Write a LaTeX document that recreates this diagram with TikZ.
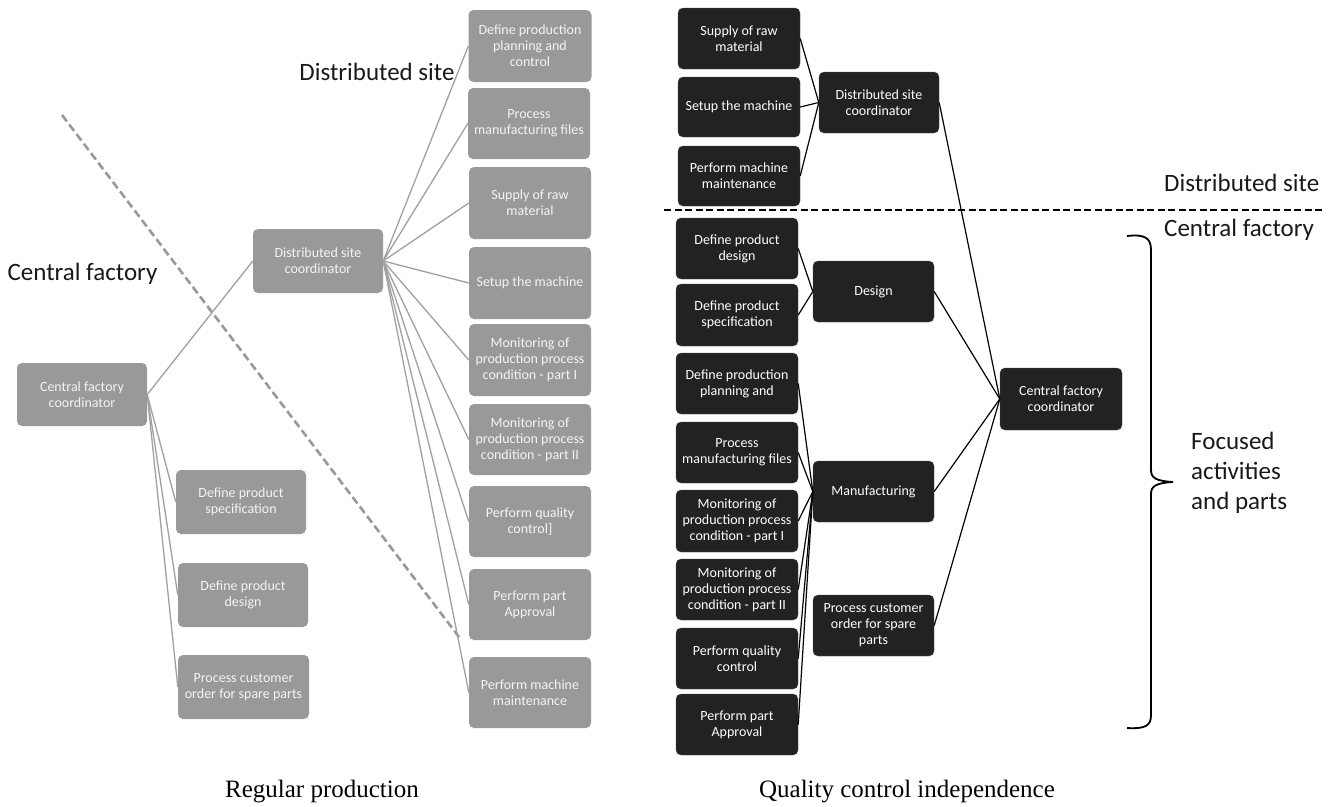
\documentclass[tikz,border=0pt]{standalone}
\usepackage{fontspec}
\setmainfont{Carlito}
\newfontfamily\capfont{Liberation Serif}
\definecolor{gfill}{HTML}{999999}
\definecolor{gline}{HTML}{A0A0A0}
\definecolor{dfill}{HTML}{222222}
\definecolor{gtext}{HTML}{F4F4F4}
\tikzset{
  boxfont/.style={font=\fontsize{14}{16}\selectfont},
  gbox/.style={boxfont, fill=gfill, text=gtext, rounded corners=5pt, align=center, inner sep=1pt},
  dbox/.style={boxfont, fill=dfill, draw=black!70, line width=0.4pt, text=white, rounded corners=5pt, align=center, inner sep=1pt},
  glink/.style={draw=gline, line width=1.3pt},
  dlink/.style={draw=black, line width=1.2pt},
  biglabel/.style={font=\fontsize{25}{30}\selectfont, text=black!90, inner sep=0pt},
  caplabel/.style={font=\capfont\fontsize{25}{28}\selectfont, text=black, inner sep=0pt},
}
\begin{document}
\begin{tikzpicture}[x=1pt,y=-1pt]
\useasboundingbox (0,0) rectangle (1332,806);

% ---------------- Left panel: Regular production ----------------
\draw[gfill, line width=2.6pt, dash pattern=on 8pt off 4pt] (62,115) -- (459,637);

\node[gbox, minimum width=130, minimum height=63] (cf) at (82,394.5) {Central factory\\coordinator};
\node[gbox, minimum width=130, minimum height=64] (dsc) at (318,261) {Distributed site\\coordinator};
\node[gbox, minimum width=130, minimum height=64] (spec) at (241,502) {Define product\\specification};
\node[gbox, minimum width=130, minimum height=64] (des) at (243,595) {Define product\\design};
\node[gbox, minimum width=131, minimum height=64] (cust) at (243.5,687) {Process customer\\order for spare parts};

\node[gbox, minimum width=123, minimum height=72] (dpp) at (530,46) {Define production\\planning and\\control};
\node[gbox, minimum width=122, minimum height=71] (pmf) at (529,123.5) {Process\\manufacturing files};
\node[gbox, minimum width=122, minimum height=72] (sup) at (530,203) {Supply of raw\\material};
\node[gbox, minimum width=122, minimum height=72] (set) at (530,283) {Setup the machine};
\node[gbox, minimum width=122, minimum height=72] (mon1) at (530,360) {Monitoring of\\production process\\condition - part I};
\node[gbox, minimum width=122, minimum height=71] (mon2) at (530,439.5) {Monitoring of\\production process\\condition - part II};
\node[gbox, minimum width=122, minimum height=71] (qc) at (530,521.5) {Perform quality\\control]};
\node[gbox, minimum width=122, minimum height=71] (app) at (530,604.5) {Perform part\\Approval};
\node[gbox, minimum width=122, minimum height=71] (mm) at (530,692.5) {Perform machine\\maintenance};

\draw[glink] (cf.east) -- (dsc.west);
\draw[glink] (cf.east) -- (spec.west);
\draw[glink] (cf.east) -- (des.west);
\draw[glink] (cf.east) -- (cust.west);
\foreach \n in {dpp,pmf,sup,set,mon1,mon2,qc,app,mm}
  \draw[glink] (dsc.east) -- (\n.west);

\node[biglabel] (lds) at (377,72) {Distributed site};
\node[biglabel] (lcf) at (82.5,274) {Central factory};
\node[caplabel] (cap1) at (322,792) {Regular production};

% ---------------- Right panel: Quality control independence ----------------
\draw[black, line width=2.2pt, dash pattern=on 7pt off 3.5pt] (664,210) -- (1322,210);

\node[dbox, minimum width=122, minimum height=61] (rsup) at (739,38.5) {Supply of raw\\material};
\node[dbox, minimum width=122, minimum height=60] (rset) at (739,107) {Setup the machine};
\node[dbox, minimum width=122, minimum height=60] (rmm) at (739,176) {Perform machine\\maintenance};
\node[dbox, minimum width=122, minimum height=61] (rdpd) at (737,248.5) {Define product\\design};
\node[dbox, minimum width=122, minimum height=62] (rdps) at (737,315) {Define product\\specification};
\node[dbox, minimum width=122, minimum height=61] (rdpp) at (737,383.5) {Define production\\planning and};
\node[dbox, minimum width=122, minimum height=61] (rpmf) at (737,452.5) {Process\\manufacturing files};
\node[dbox, minimum width=122, minimum height=62] (rmon1) at (737,521) {Monitoring of\\production process\\condition - part I};
\node[dbox, minimum width=122, minimum height=61] (rmon2) at (737,589.5) {Monitoring of\\production process\\condition - part II};
\node[dbox, minimum width=122, minimum height=61] (rqc) at (737,658.5) {Perform quality\\control};
\node[dbox, minimum width=122, minimum height=61] (rapp) at (737,724.5) {Perform part\\Approval};

\node[dbox, minimum width=120, minimum height=61] (rdsc) at (879,102.5) {Distributed site\\coordinator};
\node[dbox, minimum width=121, minimum height=61] (rdes) at (873.5,291.5) {Design};
\node[dbox, minimum width=121, minimum height=61] (rman) at (873.5,491.5) {Manufacturing};
\node[dbox, minimum width=121, minimum height=61] (rcust) at (873.5,625.5) {Process customer\\order for spare\\parts};
\node[dbox, minimum width=122, minimum height=62] (rcfc) at (1061,399) {Central factory\\coordinator};

\foreach \n in {rsup,rset,rmm}
  \draw[dlink] (\n.east) -- (rdsc.west);
\foreach \n in {rdpd,rdps}
  \draw[dlink] (\n.east) -- (rdes.west);
\foreach \n in {rdpp,rpmf,rmon1,rmon2,rqc,rapp}
  \draw[dlink] (\n.east) -- (rman.west);
\foreach \n in {rdsc,rdes,rman,rcust}
  \draw[dlink] (\n.east) -- (rcfc.west);

% brace
\draw[black, line width=1.8pt] (1127,236) .. controls (1145,234) and (1151,238) .. (1151,250)
  -- (1151,470) .. controls (1151,478) and (1156,481) .. (1173,482)
  .. controls (1156,483) and (1151,486) .. (1151,494)
  -- (1151,715) .. controls (1151,726) and (1145,729) .. (1127,728);

\node[biglabel, anchor=west] (rds) at (1164,183) {Distributed site};
\node[biglabel, anchor=west] (rcf) at (1164,230) {Central factory};
\node[biglabel, anchor=west, align=left] (foc) at (1191,473) {Focused\\activities\\and parts};
\node[caplabel] (cap2) at (907,792) {Quality control independence};
\end{tikzpicture}
\end{document}
